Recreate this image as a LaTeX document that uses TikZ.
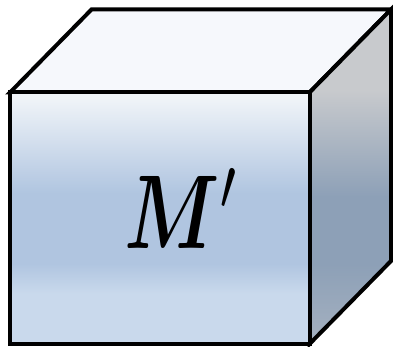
\documentclass[tikz,border=0pt]{standalone}
\usepackage{tikz}
\usepackage{bm}
\definecolor{FaceTop}{HTML}{F6F8FC}
\definecolor{FrontLight}{HTML}{F0F4F8}
\definecolor{FrontSoft}{HTML}{D2DEED}
\definecolor{FrontDeep}{HTML}{B0C5E0}
\definecolor{FrontLow}{HTML}{C9D9EC}
\definecolor{SideLight}{HTML}{C8CACD}
\definecolor{SideDeep}{HTML}{8DA0B7}
\definecolor{SideLow}{HTML}{A5B1C0}
\pgfdeclareverticalshading{frontshade}{100bp}{color(0bp)=(FrontLow); color(25bp)=(FrontLow); color(35bp)=(FrontLow); color(41bp)=(FrontDeep); color(55bp)=(FrontDeep); color(65bp)=(FrontSoft); color(74bp)=(FrontLight); color(100bp)=(FrontLight)}
\pgfdeclareverticalshading{sideshade}{100bp}{color(0bp)=(SideLow); color(25bp)=(SideLow); color(37bp)=(SideDeep); color(47bp)=(SideDeep); color(63bp)=(SideLight); color(75bp)=(SideLight); color(100bp)=(SideLight)}

\begin{document}
\begin{tikzpicture}[x=1pt,y=1pt,
    face/.style={draw=black,line width=4pt,line join=miter},
    lbl/.style={inner sep=0pt,anchor=base west}]
  \useasboundingbox (0,0) rectangle (393,347);
  % corners of the box
  \coordinate (fbl) at (10,3);
  \coordinate (fbr) at (309.5,3);
  \coordinate (ftr) at (309.5,254.5);
  \coordinate (ftl) at (10,254.5);
  \coordinate (btl) at (91.5,337.5);
  \coordinate (btr) at (391,337.5);
  \coordinate (bbr) at (391,86);
  % faces
  \path[face,fill=FaceTop] (ftl) -- (btl) -- (btr) -- (ftr) -- cycle;
  \path[face,shading=sideshade] (ftr) -- (btr) -- (bbr) -- (fbr) -- cycle;
  \path[face,shading=frontshade] (fbl) -- (fbr) -- (ftr) -- (ftl) -- cycle;
  \node[lbl] (mlabel) at (124,99) {\scalebox{7.6}[10.5]{$\bm{M}'$}};
\end{tikzpicture}
\end{document}
